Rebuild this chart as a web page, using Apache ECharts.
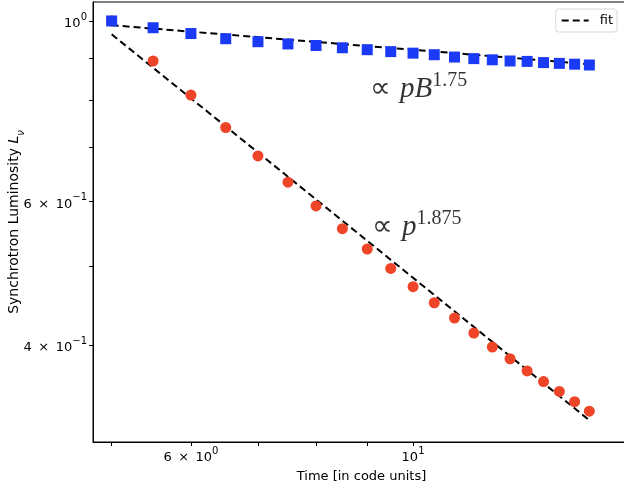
<!DOCTYPE html>
<html><head><meta charset="utf-8">
<script src="https://cdn.jsdelivr.net/npm/echarts@6/dist/echarts.min.js"></script>
<style>html,body{margin:0;padding:0;background:#fff}#c{width:624px;height:491px}</style>
</head><body><div id="c"></div>
<script>
const times = [5, 5.5, 6, 6.5, 7, 7.5, 8, 8.5, 9, 9.5, 10, 10.5, 11, 11.5, 12, 12.5, 13, 13.5, 14, 14.5, 15];
const pBValues = [1.0, 0.981, 0.965, 0.951, 0.943, 0.937, 0.933, 0.927, 0.922, 0.917, 0.913, 0.909, 0.903, 0.899, 0.896, 0.893, 0.892, 0.889, 0.887, 0.885, 0.883];
const pValues = [1.0, 0.893, 0.811, 0.740, 0.683, 0.634, 0.593, 0.556, 0.525, 0.497, 0.472, 0.451, 0.432, 0.414, 0.398, 0.385, 0.372, 0.361, 0.351, 0.341, 0.332];
const fitPBLine = [[5, 0.988], [15, 0.885]];
const fitPLine = [[5, 0.963], [15, 0.3236]];
const xTickValues = [5, 6, 7, 8, 9, 10];
const xLabelValues = [6, 10];
const yTickValues = [0.4, 0.5, 0.6, 0.7, 0.8, 0.9, 1.0];
const yLabelValues = [0.4, 0.6, 1.0];
const annotPB = [9.06, 0.829];
const annotP = [9.10, 0.5614];

function sciLabel(v) {
  const e = Math.floor(Math.log10(v) + 1e-9);
  const m = Math.round(v / Math.pow(10, e));
  const es = e < 0 ? '\u2212' + (-e) : String(e);
  return (m === 1 ? '{m|10}' : '{m|' + m + '\u2002\u00d7\u200210}') + '{s|' + es + '}';
}
const labRich = {
  m: { fontFamily: 'DejaVu Sans', fontSize: 13, color: '#000', lineHeight: 18, verticalAlign: 'bottom' },
  s: { fontFamily: 'DejaVu Sans', fontSize: 10, color: '#000', lineHeight: 12, verticalAlign: 'top' }
};
const serifRich = {
  o: { fontFamily: 'DejaVu Sans', fontSize: 29, color: '#000', lineHeight: 34, verticalAlign: 'bottom' },
  i: { fontFamily: 'Liberation Serif', fontStyle: 'italic', fontSize: 29, color: '#000', lineHeight: 34, verticalAlign: 'bottom' },
  s: { fontFamily: 'Liberation Serif', fontSize: 20, color: '#000', lineHeight: 20, verticalAlign: 'top' }
};

const chart = echarts.init(document.getElementById('c'), null, { renderer: 'canvas' });
chart.setOption({
  animation: false,
  backgroundColor: '#fff',
  grid: { left: 93, top: 2, right: -6, bottom: 49, outerBoundsMode: 'none', containLabel: false, show: true, borderColor: '#000', borderWidth: 1, backgroundColor: 'transparent' },
  legend: {
    data: ['fit'], right: 7, top: 9, orient: 'vertical',
    itemWidth: 27, itemHeight: 14, padding: [5, 4, 5, 5],
    itemStyle: { opacity: 0 },
    backgroundColor: '#fff', borderColor: '#d8d8d8', borderWidth: 1, borderRadius: 3,
    textStyle: { fontFamily: 'DejaVu Sans', fontSize: 13, color: '#000', padding: [0, 0, 0, 6] }
  },
  xAxis: {
    type: 'log', logBase: 10, min: 4.79, max: 16.47,
    name: 'Time [in code units]', nameLocation: 'middle', nameGap: 28,
    nameTextStyle: { fontFamily: 'DejaVu Sans', fontSize: 13, color: '#000' },
    axisLine: { show: true, lineStyle: { color: '#000', width: 1 } },
    axisTick: { show: true, customValues: xTickValues, length: 4, lineStyle: { color: '#000' } },
    axisLabel: { customValues: xLabelValues, margin: 4, formatter: v => sciLabel(v), rich: labRich },
    splitLine: { show: false }, minorTick: { show: false }
  },
  yAxis: {
    type: 'log', logBase: 10, min: 0.3043, max: 1.055,
    name: '{n|Synchrotron Luminosity }{i|L}{u|\u03bd}', nameLocation: 'middle', nameGap: 67,
    nameMoveOverlap: false,
    nameTextStyle: {
      rich: {
        n: { fontFamily: 'DejaVu Sans', fontSize: 14, color: '#000', lineHeight: 19, verticalAlign: 'top' },
        i: { fontFamily: 'DejaVu Sans', fontStyle: 'italic', fontSize: 14, color: '#000', lineHeight: 19, verticalAlign: 'top' },
        u: { fontFamily: 'DejaVu Sans', fontStyle: 'italic', fontSize: 10, color: '#000', lineHeight: 19, verticalAlign: 'bottom' }
      }
    },
    axisLine: { show: true, lineStyle: { color: '#000', width: 1 } },
    axisTick: { show: true, customValues: yTickValues, length: 4, lineStyle: { color: '#000' } },
    axisLabel: { customValues: yLabelValues, margin: 6, formatter: v => sciLabel(v), rich: labRich },
    splitLine: { show: false }, minorTick: { show: false }
  },
  series: [
    { name: 'fit', type: 'line', data: fitPLine, symbol: 'none', lineStyle: { color: '#000', width: 2, type: [7, 4] }, itemStyle: { color: '#000' }, z: 2 },
    { name: 'fit', type: 'line', data: fitPBLine, symbol: 'none', lineStyle: { color: '#000', width: 2, type: [7, 4] }, itemStyle: { color: '#000' }, z: 2 },
    { name: 'p', type: 'scatter', data: times.map((t, i) => [t, pValues[i]]), symbol: 'circle', symbolSize: 11, itemStyle: { color: '#ee4427', opacity: 1 }, z: 3 },
    { name: 'pB', type: 'scatter', data: times.map((t, i) => [t, pBValues[i]]), symbol: 'rect', symbolSize: 11, itemStyle: { color: '#1a3af5', opacity: 1 }, z: 4 },
    { name: 'annot', type: 'scatter', silent: true, symbolSize: 0, z: 5,
      data: [
        { value: annotPB, label: { formatter: '{o|\u221d }{i|pB}{s|1.75}' } },
        { value: annotP, label: { formatter: '{o|\u221d }{i|p}{s|1.875}' } }
      ],
      label: { show: true, position: 'right', distance: 0, rich: serifRich }
    }
  ]
});
</script></body></html>
